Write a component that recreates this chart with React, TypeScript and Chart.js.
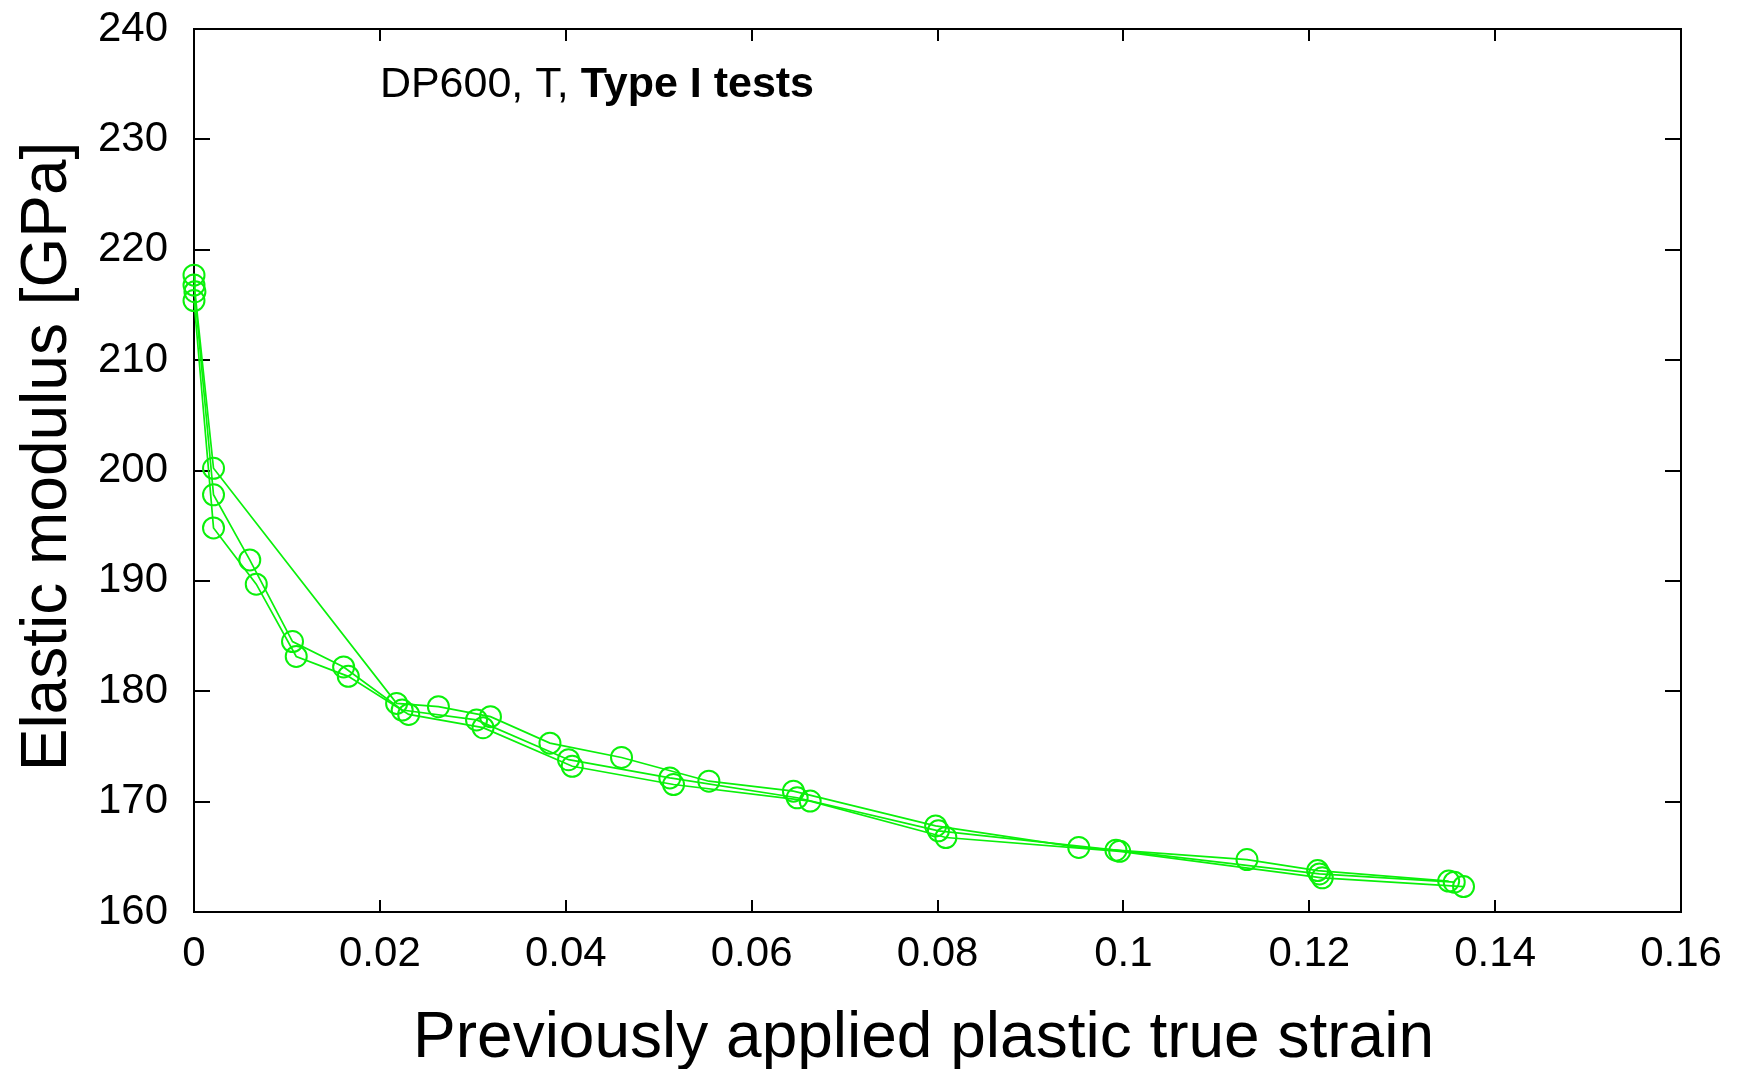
import { useEffect, useRef } from "react";
import { Chart, registerables } from "chart.js";

Chart.register(...registerables);

// Test series: previously applied plastic true strain vs. measured elastic modulus (GPa)
const strainA = [0, 0.0001, 0.0021, 0.0218, 0.0263, 0.0319, 0.0383, 0.046, 0.0554, 0.0645, 0.0798, 0.0952, 0.1133, 0.1209, 0.135];
const modulusA = [217.7, 216.2, 200.2, 178.9, 178.6, 177.7, 175.3, 174.0, 171.85, 170.95, 167.8, 165.85, 164.75, 163.75, 162.8];

const strainB = [0, 0.0021, 0.006, 0.0106, 0.0161, 0.0224, 0.0304, 0.0403, 0.0512, 0.0649, 0.0801, 0.0992, 0.1211, 0.1356];
const modulusB = [216.8, 197.8, 191.9, 184.5, 182.2, 178.3, 177.4, 173.8, 172.15, 170.35, 167.35, 165.6, 163.45, 162.7];

const strainC = [0, 0.0021, 0.0067, 0.011, 0.0166, 0.0231, 0.0311, 0.0407, 0.0516, 0.0663, 0.0809, 0.0996, 0.1214, 0.1366];
const modulusC = [215.4, 194.8, 189.7, 183.15, 181.35, 177.9, 176.7, 173.2, 171.55, 170.05, 166.75, 165.5, 163.1, 162.3];

const xTickValues = [0, 0.02, 0.04, 0.06, 0.08, 0.1, 0.12, 0.14, 0.16];
const xTickLabels = ["0", "0.02", "0.04", "0.06", "0.08", "0.1", "0.12", "0.14", "0.16"];
const yTickValues = [160, 170, 180, 190, 200, 210, 220, 230, 240];
const yTickLabels = ["160", "170", "180", "190", "200", "210", "220", "230", "240"];

const xTitle = "Previously applied plastic true strain";
const yTitle = "Elastic modulus [GPa]";
const notePlain = "DP600, T, ";
const noteBold = "Type I tests";
const noteAt = { x: 0.02, y: 233.8 };

const FONT = "'Liberation Sans', Arial, Helvetica, sans-serif";
const GREEN = "#0af00a";

const toPoints = (xs: number[], ys: number[]) => xs.map((x, i) => ({ x, y: ys[i] }));

const series = [
  toPoints(strainA, modulusA),
  toPoints(strainB, modulusB),
  toPoints(strainC, modulusC),
];

// Boxed frame with inward ticks on all four sides, the in-plot note and the axis titles
const frameAndNote = {
  id: "frameAndNote",
  beforeDatasetsDraw(chart: any) {
    const { ctx, chartArea, scales } = chart;
    const { left, right, top, bottom } = chartArea;
    const xs = scales.x;
    const ys = scales.y;
    ctx.save();
    ctx.strokeStyle = "#000";
    ctx.lineWidth = 2;
    ctx.strokeRect(left, top, right - left, bottom - top);
    ctx.beginPath();
    for (const v of xTickValues) {
      const px = Math.round(xs.getPixelForValue(v));
      ctx.moveTo(px, bottom);
      ctx.lineTo(px, bottom - 12);
      ctx.moveTo(px, top);
      ctx.lineTo(px, top + 12);
    }
    for (const v of yTickValues) {
      const py = Math.round(ys.getPixelForValue(v));
      ctx.moveTo(left, py);
      ctx.lineTo(left + 16, py);
      ctx.moveTo(right, py);
      ctx.lineTo(right - 16, py);
    }
    ctx.stroke();

    // note inside the plot
    const nx = xs.getPixelForValue(noteAt.x);
    const ny = ys.getPixelForValue(noteAt.y);
    ctx.fillStyle = "#000";
    ctx.textAlign = "left";
    ctx.textBaseline = "alphabetic";
    ctx.font = `43px ${FONT}`;
    ctx.fillText(notePlain, nx, ny);
    const w = ctx.measureText(notePlain).width;
    ctx.font = `bold 43px ${FONT}`;
    ctx.fillText(noteBold, nx + w, ny);

    // axis titles
    const cx = (left + right) / 2;
    const cy = (top + bottom) / 2;
    ctx.font = `64px ${FONT}`;
    ctx.textAlign = "center";
    ctx.fillText(xTitle, cx - 14, chart.height - 12);
    ctx.translate(66, cy - 14);
    ctx.rotate(-Math.PI / 2);
    ctx.fillText(yTitle, 0, 0);
    ctx.restore();
  },
};

export default function App() {
  const canvasRef = useRef<HTMLCanvasElement | null>(null);

  useEffect(() => {
    const canvas = canvasRef.current;
    if (!canvas) return;
    const chart = new Chart(canvas, {
      type: "scatter",
      data: {
        datasets: series.map((pts) => ({
          data: pts,
          showLine: true,
          borderColor: GREEN,
          borderWidth: 1.7,
          pointRadius: 10.5,
          pointHoverRadius: 10.5,
          pointBorderWidth: 2,
          pointBorderColor: GREEN,
          pointBackgroundColor: "rgba(0,0,0,0)",
          tension: 0,
          clip: false as any,
        })),
      },
      options: {
        responsive: false,
        animation: false,
        events: [],
        layout: { padding: { top: 29, right: 58, left: 0, bottom: 0 } },
        plugins: {
          legend: { display: false },
          tooltip: { enabled: false },
        },
        scales: {
          x: {
            type: "linear",
            min: 0,
            max: 0.16,
            afterBuildTicks: (scale: any) => {
              scale.ticks = xTickValues.map((v) => ({ value: v }));
            },
            afterFit: (scale: any) => {
              scale.height = 157;
            },
            grid: { display: false, drawTicks: false },
            border: { display: false },
            ticks: {
              color: "#000",
              font: { family: FONT, size: 42, lineHeight: 1.2857 },
              padding: 15,
              maxRotation: 0,
              autoSkip: false,
              callback: (_v: any, i: number) => xTickLabels[i],
            },
            title: { display: false },
          },
          y: {
            type: "linear",
            min: 160,
            max: 240,
            afterBuildTicks: (scale: any) => {
              scale.ticks = yTickValues.map((v) => ({ value: v }));
            },
            afterFit: (scale: any) => {
              scale.width = 194;
            },
            grid: { display: false, drawTicks: false },
            border: { display: false },
            ticks: {
              color: "#000",
              // single-line labels: a small line height keeps the end-label padding from pushing the plot down
              font: { family: FONT, size: 42, lineHeight: 0.1 },
              padding: 26,
              autoSkip: false,
              callback: (_v: any, i: number) => yTickLabels[i],
            },
            title: { display: false },
          },
        },
      },
      plugins: [frameAndNote],
    });
    return () => chart.destroy();
  }, []);

  return (
    <div style={{ position: "fixed", left: 0, top: 0, width: 1739, height: 1069, background: "#fff" }}>
      <canvas ref={canvasRef} width={1739} height={1069} style={{ display: "block" }} />
    </div>
  );
}
